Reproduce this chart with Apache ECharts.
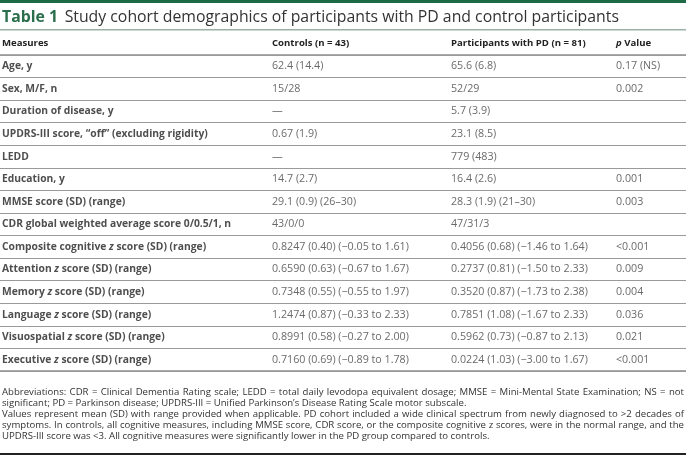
<!DOCTYPE html>
<html>
<head>
<meta charset="utf-8">
<script src="https://cdn.jsdelivr.net/npm/echarts/dist/echarts.min.js"></script>
<style>html,body{margin:0;padding:0;background:#fff;}#c{width:686px;height:468px;}</style>
</head>
<body>
<div id="c"></div>
<script>
const titleLabel = 'Table 1';
const titleText = 'Study cohort demographics of participants with PD and control participants';
const headers = ['Measures', 'Controls (n = 43)', 'Participants with PD (n = 81)', 'p Value'];
const measures = [
  'Age, y',
  'Sex, M/F, n',
  'Duration of disease, y',
  'UPDRS-III score, \u201coff\u201d (excluding rigidity)',
  'LEDD',
  'Education, y',
  'MMSE score (SD) (range)',
  'CDR global weighted average score 0/0.5/1, n',
  'Composite cognitive z score (SD) (range)',
  'Attention z score (SD) (range)',
  'Memory z score (SD) (range)',
  'Language z score (SD) (range)',
  'Visuospatial z score (SD) (range)',
  'Executive z score (SD) (range)'
];
const controls = [
  '62.4 (14.4)', '15/28', '\u2014', '0.67 (1.9)', '\u2014', '14.7 (2.7)',
  '29.1 (0.9) (26\u201330)', '43/0/0',
  '0.8247 (0.40) (\u22120.05 to 1.61)',
  '0.6590 (0.63) (\u22120.67 to 1.67)',
  '0.7348 (0.55) (\u22120.55 to 1.97)',
  '1.2474 (0.87) (\u22120.33 to 2.33)',
  '0.8991 (0.58) (\u22120.27 to 2.00)',
  '0.7160 (0.69) (\u22120.89 to 1.78)'
];
const pd = [
  '65.6 (6.8)', '52/29', '5.7 (3.9)', '23.1 (8.5)', '779 (483)', '16.4 (2.6)',
  '28.3 (1.9) (21\u201330)', '47/31/3',
  '0.4056 (0.68) (\u22121.46 to 1.64)',
  '0.2737 (0.81) (\u22121.50 to 2.33)',
  '0.3520 (0.87) (\u22121.73 to 2.38)',
  '0.7851 (1.08) (\u22121.67 to 2.33)',
  '0.5962 (0.73) (\u22120.87 to 2.13)',
  '0.0224 (1.03) (\u22123.00 to 1.67)'
];
const pvalues = [
  '0.17 (NS)', '0.002', '', '', '', '0.001', '0.003', '',
  '<0.001', '0.009', '0.004', '0.036', '0.021', '<0.001'
];
const footnote = [
  'Abbreviations: CDR = Clinical Dementia Rating scale; LEDD = total daily levodopa equivalent dosage; MMSE = Mini-Mental State Examination; NS = not',
  'significant; PD = Parkinson disease; UPDRS-III = Unified Parkinson\u2019s Disease Rating Scale motor subscale.',
  'Values represent mean (SD) with range provided when applicable. PD cohort included a wide clinical spectrum from newly diagnosed to >2 decades of',
  'symptoms. In controls, all cognitive measures, including MMSE score, CDR score, or the composite cognitive z scores, were in the normal range, and the',
  'UPDRS-III score was <3. All cognitive measures were significantly lower in the PD group compared to controls.'
];
const footnoteJustified = [true, false, true, true, false];

// layout
const FONT = '"Open Sans", sans-serif';
const colX = [2, 272, 451, 616];
const gridTop = 55, gridBottomY = 371;
const W = 686, H = 468;
const bodyBold = 10.3, bodyReg = 10.7, headSize = 9.6, noteSize = 9.6;

function esc(s) { return s.replace(/([{}|])/g, ''); }
function italicZ(s) { return esc(s).replace(/ z /g, ' {i|z} '); }

function colSeries(values, x, bold, fmt) {
  return {
    type: 'scatter',
    symbolSize: 0,
    silent: true,
    data: values.map((v, i) => [x, i, v]),
    label: {
      show: true,
      position: 'right',
      distance: 0,
      formatter: p => fmt ? fmt(p.data[2]) : esc(p.data[2]),
      fontFamily: FONT,
      fontSize: bold ? bodyBold : bodyReg,
      fontWeight: bold ? 'bold' : 'normal',
      color: bold ? '#222' : '#444',
      rich: {
        i: { fontFamily: FONT, fontSize: bodyBold, fontWeight: 'bold', fontStyle: 'italic', color: '#222' }
      }
    }
  };
}

const chart = echarts.init(document.getElementById('c'), null, { renderer: 'canvas' });

const graphics = [
  { type: 'rect', shape: { x: 0, y: 0, width: W, height: 3 }, style: { fill: '#1f6b48' } },
  { type: 'text', x: 2, y: 17, style: {
      text: '{a|' + titleLabel + '}  {b|' + titleText + '}',
      verticalAlign: 'middle',
      rich: {
        a: { fontFamily: FONT, fontSize: 15.8, fontWeight: 'bold', fill: '#2a6e4c' },
        b: { fontFamily: FONT, fontSize: 15.8, fill: '#333' }
      }
  } },
  { type: 'rect', shape: { x: 0, y: 29, width: W, height: 1.5 }, style: { fill: '#9bb1a5' } },
  { type: 'rect', shape: { x: 0, y: gridTop - 1, width: W, height: 2 }, style: { fill: '#a9a9a9' } },
  { type: 'rect', shape: { x: 0, y: gridBottomY - 1, width: W, height: 2 }, style: { fill: '#a9a9a9' } },
  { type: 'rect', shape: { x: 0, y: 453, width: W, height: 2 }, style: { fill: '#222' } }
];
headers.forEach((h, i) => {
  graphics.push({ type: 'text', x: colX[i], y: 43, style: {
    text: i === 3 ? '{i|p} Value' : h,
    verticalAlign: 'middle',
    fontFamily: FONT, fontSize: headSize, fontWeight: 'bold', fill: '#222',
    rich: { i: { fontFamily: FONT, fontSize: headSize, fontWeight: 'bold', fontStyle: 'italic', fill: '#222' } }
  } });
});

// footnote, justified like the source
const mctx = document.createElement('canvas').getContext('2d');
mctx.font = noteSize + 'px "Open Sans"';
const noteLeft = 2, noteRight = 684;
footnote.forEach((line, i) => {
  const y = 392 + i * 11;
  if (!footnoteJustified[i]) {
    graphics.push({ type: 'text', x: noteLeft, y: y, style: {
      text: line, verticalAlign: 'middle', fontFamily: FONT, fontSize: noteSize, fill: '#333'
    } });
    return;
  }
  const words = line.split(' ');
  const widths = words.map(w => mctx.measureText(w).width);
  const total = widths.reduce((a, b) => a + b, 0);
  const gap = (noteRight - noteLeft - total) / (words.length - 1);
  let x = noteLeft;
  words.forEach((w, k) => {
    graphics.push({ type: 'text', x: x, y: y, style: {
      text: w, verticalAlign: 'middle', fontFamily: FONT, fontSize: noteSize, fill: '#333'
    } });
    x += widths[k] + gap;
  });
});

chart.setOption({
  animation: false,
  backgroundColor: '#fff',
  grid: { left: 0, right: 0, top: gridTop, bottom: H - gridBottomY, containLabel: false },
  xAxis: { type: 'value', min: 0, max: W, show: false },
  yAxis: {
    type: 'category',
    data: measures.map((m, i) => i),
    inverse: true,
    boundaryGap: true,
    axisLine: { show: false },
    axisTick: { show: false },
    axisLabel: { show: false },
    splitLine: { show: true, lineStyle: { color: '#9a9a9a', width: 1 } }
  },
  series: [
    colSeries(measures, colX[0], true, italicZ),
    colSeries(controls, colX[1], false),
    colSeries(pd, colX[2], false),
    colSeries(pvalues, colX[3], false)
  ],
  graphic: graphics
});
</script>
</body>
</html>
